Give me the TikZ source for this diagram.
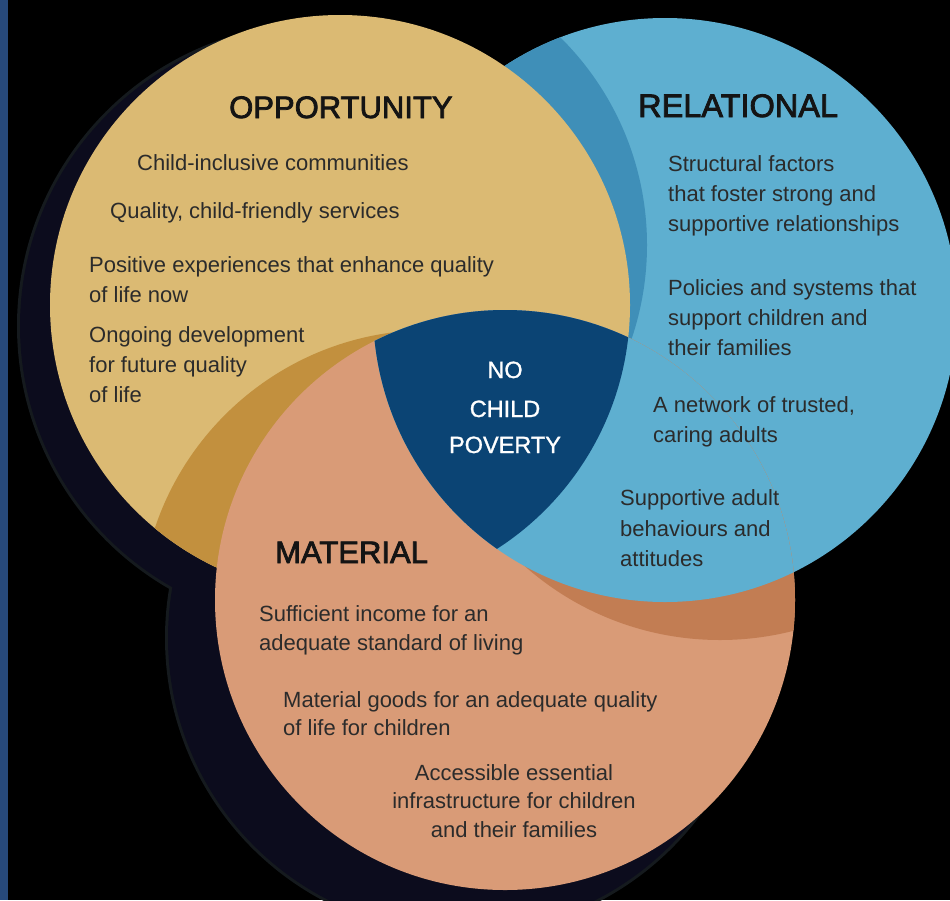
\documentclass[tikz,border=0pt]{standalone}
\usepackage{fontspec}
\setmainfont{Liberation Sans}
\newfontfamily\headfont[FakeBold=2.5]{Liberation Sans}
\newfontfamily\ctrfont[FakeBold=1.2]{Liberation Sans}
\definecolor{stripc}{HTML}{27497A}
\definecolor{yellowc}{HTML}{DBBA73}
\definecolor{goldshadow}{HTML}{C2903E}
\definecolor{bluec}{HTML}{5EAFD0}
\definecolor{blueshadow}{HTML}{3F8FB8}
\definecolor{salmonc}{HTML}{D99B77}
\definecolor{salmonshadow}{HTML}{C27D53}
\definecolor{navyc}{HTML}{0B4474}
\definecolor{darkband}{HTML}{0C0C1D}
\definecolor{rimc}{HTML}{151A1E}
\definecolor{txtc}{HTML}{2B2B2B}
\definecolor{headc}{HTML}{141414}
\begin{document}
\begin{tikzpicture}[x=1pt,y=-1pt,
  body/.style={font=\fontsize{22}{30}\selectfont, text=txtc, inner sep=0pt},
  head/.style={font=\headfont\fontsize{31}{36}\selectfont, text=headc, inner sep=0pt},
  ctr/.style={font=\ctrfont\fontsize{23.5}{30}\selectfont, text=white, inner sep=0pt}]
\useasboundingbox (0,0) rectangle (950,900);
\fill[black] (0,0) rectangle (950,900);
% outer drop shadow
\fill[rimc] (320,326) circle[radius=303pt] (462,638) circle[radius=297pt];
\fill[darkband] (320,326) circle[radius=300pt] (462,638) circle[radius=294pt];
\fill[stripc] (0,0) rectangle (8,900);
% relational circle
\fill[bluec] (665,310) circle[radius=292pt];
\begin{scope}
  \clip (665,310) circle[radius=292pt];
  \fill[blueshadow] (355,245) circle[radius=292pt];
\end{scope}
% opportunity circle
\fill[yellowc] (340,305) circle[radius=290pt];
\begin{scope}
  \clip (340,305) circle[radius=290pt];
  \fill[goldshadow] (430,620) circle[radius=290pt];
\end{scope}
% material circle
\fill[salmonc] (505,600) circle[radius=290pt];
\begin{scope}
  \clip (505,600) circle[radius=290pt];
  \fill[salmonshadow] (720,345) circle[radius=295pt];
  \fill[bluec] (665,310) circle[radius=292pt];
\end{scope}
% centre
\begin{scope}
  \clip (340,305) circle[radius=290pt];
  \clip (665,310) circle[radius=292pt];
  \fill[navyc] (505,600) circle[radius=290pt];
\end{scope}

% OPPORTUNITY
\node[head,anchor=base west] (oppH) at (229,118) {OPPORTUNITY};
\node[body,anchor=base west] (o1) at (137,170) {Child-inclusive communities};
\node[body,anchor=base west] (o2) at (110,218) {Quality, child-friendly services};
\node[body,anchor=base west] (o3) at (89,272) {Positive experiences that enhance quality};
\node[body,anchor=base west] (o4) at (89,302) {of life now};
\node[body,anchor=base west] (o5) at (89,342) {Ongoing development};
\node[body,anchor=base west] (o6) at (89,372) {for future quality};
\node[body,anchor=base west] (o7) at (89,402) {of life};

% RELATIONAL
\node[head,anchor=base west,font=\headfont\fontsize{32.5}{36}\selectfont] (relH) at (638,117) {RELATIONAL};
\node[body,anchor=base west] (r1) at (668,171) {Structural factors};
\node[body,anchor=base west] (r2) at (668,201) {that foster strong and};
\node[body,anchor=base west] (r3) at (668,231) {supportive relationships};
\node[body,anchor=base west] (r4) at (668,295) {Policies and systems that};
\node[body,anchor=base west] (r5) at (668,325) {support children and};
\node[body,anchor=base west] (r6) at (668,355) {their families};
\node[body,anchor=base west] (r7) at (653,412) {A network of trusted,};
\node[body,anchor=base west] (r8) at (653,442) {caring adults};
\node[body,anchor=base west] (r9) at (620,505) {Supportive adult};
\node[body,anchor=base west] (r10) at (620,536) {behaviours and};
\node[body,anchor=base west] (r11) at (620,566) {attitudes};

% MATERIAL
\node[head,anchor=base west] (matH) at (275,563) {MATERIAL};
\node[body,anchor=base west] (m1) at (259,621) {Sufficient income for an};
\node[body,anchor=base west] (m2) at (259,650) {adequate standard of living};
\node[body,anchor=base west] (m3) at (283,707) {Material goods for an adequate quality};
\node[body,anchor=base west] (m4) at (283,735) {of life for children};
\node[body,anchor=base] (m5) at (514,780) {Accessible essential};
\node[body,anchor=base] (m6) at (514,808) {infrastructure for children};
\node[body,anchor=base] (m7) at (514,837) {and their families};

% centre
\node[ctr,anchor=base] (c1) at (505,378) {NO};
\node[ctr,anchor=base] (c2) at (505,417) {CHILD};
\node[ctr,anchor=base] (c3) at (505,453) {POVERTY};
\end{tikzpicture}
\end{document}
